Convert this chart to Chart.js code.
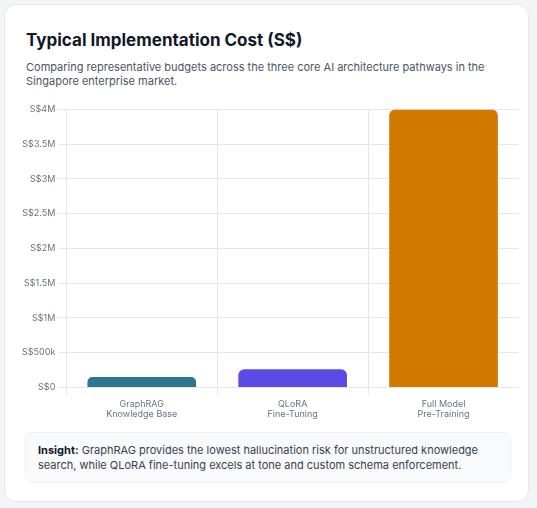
<!DOCTYPE html><html><head><meta charset="utf-8">
<script src="https://cdn.jsdelivr.net/npm/chart.js@4"></script>
<style>
body{margin:0;background:#f3f4f6;font-family:Inter,sans-serif;}
.card{position:absolute;left:4px;top:4px;width:525px;height:498px;background:#fff;border:1px solid #e5e7eb;border-radius:12px;box-sizing:border-box;}
h1{position:absolute;left:21px;top:25px;margin:0;font-size:17px;font-weight:700;color:#111827;}
.sub{position:absolute;left:21px;top:55px;width:470px;font-size:11px;line-height:14px;color:#4b5563;}
.cw{position:absolute;left:14px;top:96px;width:500px;height:322px;}
.ins{position:absolute;left:20px;top:427px;width:486px;height:51px;box-sizing:border-box;background:#f8fafc;border:1px solid #eef0f3;border-radius:8px;padding:10px 12px;font-size:11px;line-height:15px;color:#374151;}
</style></head><body>
<div class="card">
<h1>Typical Implementation Cost (S$)</h1>
<div class="sub">Comparing representative budgets across the three core AI architecture pathways in the Singapore enterprise market.</div>
<div class="cw"><canvas id="c"></canvas></div>
<div class="ins"><b style="color:#111827">Insight:</b> GraphRAG provides the lowest hallucination risk for unstructured knowledge search, while QLoRA fine-tuning excels at tone and custom schema enforcement.</div>
</div>
<script>
const categories=[["GraphRAG","Knowledge Base"],["QLoRA","Fine-Tuning"],["Full Model","Pre-Training"]];
const costs=[150000,260000,4000000];
const colors=["#2e7590","#5b4be6","#d27a00"];
new Chart(document.getElementById('c'),{type:'bar',
data:{labels:categories,datasets:[{data:costs,backgroundColor:colors,borderRadius:{topLeft:6,topRight:6},borderSkipped:'bottom',categoryPercentage:0.72,barPercentage:1}]},
options:{responsive:true,maintainAspectRatio:false,animation:false,
plugins:{legend:{display:false},tooltip:{enabled:false}},
scales:{y:{min:0,max:4000000,ticks:{stepSize:500000,color:'#6b7280',font:{family:'Inter',size:9},
callback:v=>v===0?'S$0':v<1000000?'S$'+v/1000+'k':'S$'+v/1000000+'M'},grid:{color:'#e5e7eb'},border:{display:false}},
x:{ticks:{color:'#6b7280',font:{family:'Inter',size:9}},grid:{color:'#e5e7eb',offset:true},border:{display:false}}}}});
</script></body></html>
